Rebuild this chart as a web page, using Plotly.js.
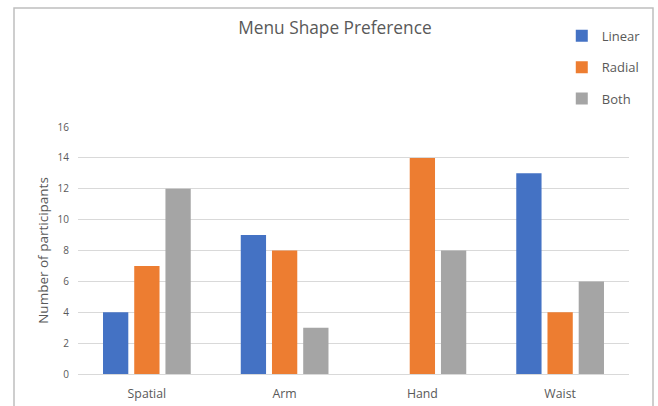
<!DOCTYPE html>
<html>
<head>
<meta charset="utf-8">
<script src="https://cdn.plot.ly/plotly-3.0.1.min.js"></script>
<style>html,body{margin:0;padding:0;background:#fff;}#chart{width:658px;height:406px;}</style>
</head>
<body>
<div id="chart"></div>
<script>
const categories = ["Spatial", "Arm", "Hand", "Waist"];
const linearValues = [4, 9, 0, 13];
const radialValues = [7, 8, 14, 4];
const bothValues = [12, 3, 8, 6];
const yTicks = [0, 2, 4, 6, 8, 10, 12, 14, 16];

const font = "Open Sans, Liberation Sans, sans-serif";
const txt = "#595959";

const traces = [
  {name: "Linear", y: linearValues, color: "#4472C4"},
  {name: "Radial", y: radialValues, color: "#ED7D31"},
  {name: "Both", y: bothValues, color: "#A5A5A5"}
].map(s => ({
  type: "bar", name: s.name, x: categories, y: s.y,
  marker: {color: s.color}, legendgroup: s.name, hoverinfo: "none"
}));

const layout = {
  width: 658, height: 406,
  margin: {l: 78, r: 29, t: 127, b: 32},
  paper_bgcolor: "#ffffff", plot_bgcolor: "#ffffff",
  font: {family: font, color: txt},
  title: {text: "Menu Shape Preference", font: {size: 17.3, color: txt, family: font},
          x: 0.509, xref: "container", y: 0.931, yref: "container", xanchor: "center", yanchor: "middle"},
  barmode: "group", bargap: 0.32, bargroupgap: 0.19,
  xaxis: {showgrid: false, showline: false, ticks: "", tickfont: {size: 12.3, color: txt},
          ticklabelstandoff: 11, fixedrange: true},
  yaxis: {range: [0, 16], tickvals: yTicks, gridcolor: "#D9D9D9", gridwidth: 1, zeroline: true,
          zerolinecolor: "#D9D9D9", zerolinewidth: 1, showline: false, ticks: "",
          tickfont: {size: 10, color: txt}, ticklabelstandoff: 8,
          title: {text: "Number of participants", font: {size: 13.5, color: txt}, standoff: 5}},
  legend: {x: 0.878, xanchor: "left", y: 1.43, yanchor: "top", font: {size: 13, color: txt},
           tracegroupgap: 11.5, bgcolor: "rgba(0,0,0,0)"},
  shapes: [{type: "rect", xref: "paper", yref: "paper",
            x0: (14 - 78) / 551, x1: (653 - 78) / 551, y0: -(420 - 374) / 247, y1: (374 - 8) / 247,
            line: {color: "#BFBFBF", width: 1.5}, fillcolor: "rgba(0,0,0,0)", layer: "below"}]
};

Plotly.newPlot("chart", traces, layout, {displayModeBar: false, staticPlot: true});
</script>
</body>
</html>
